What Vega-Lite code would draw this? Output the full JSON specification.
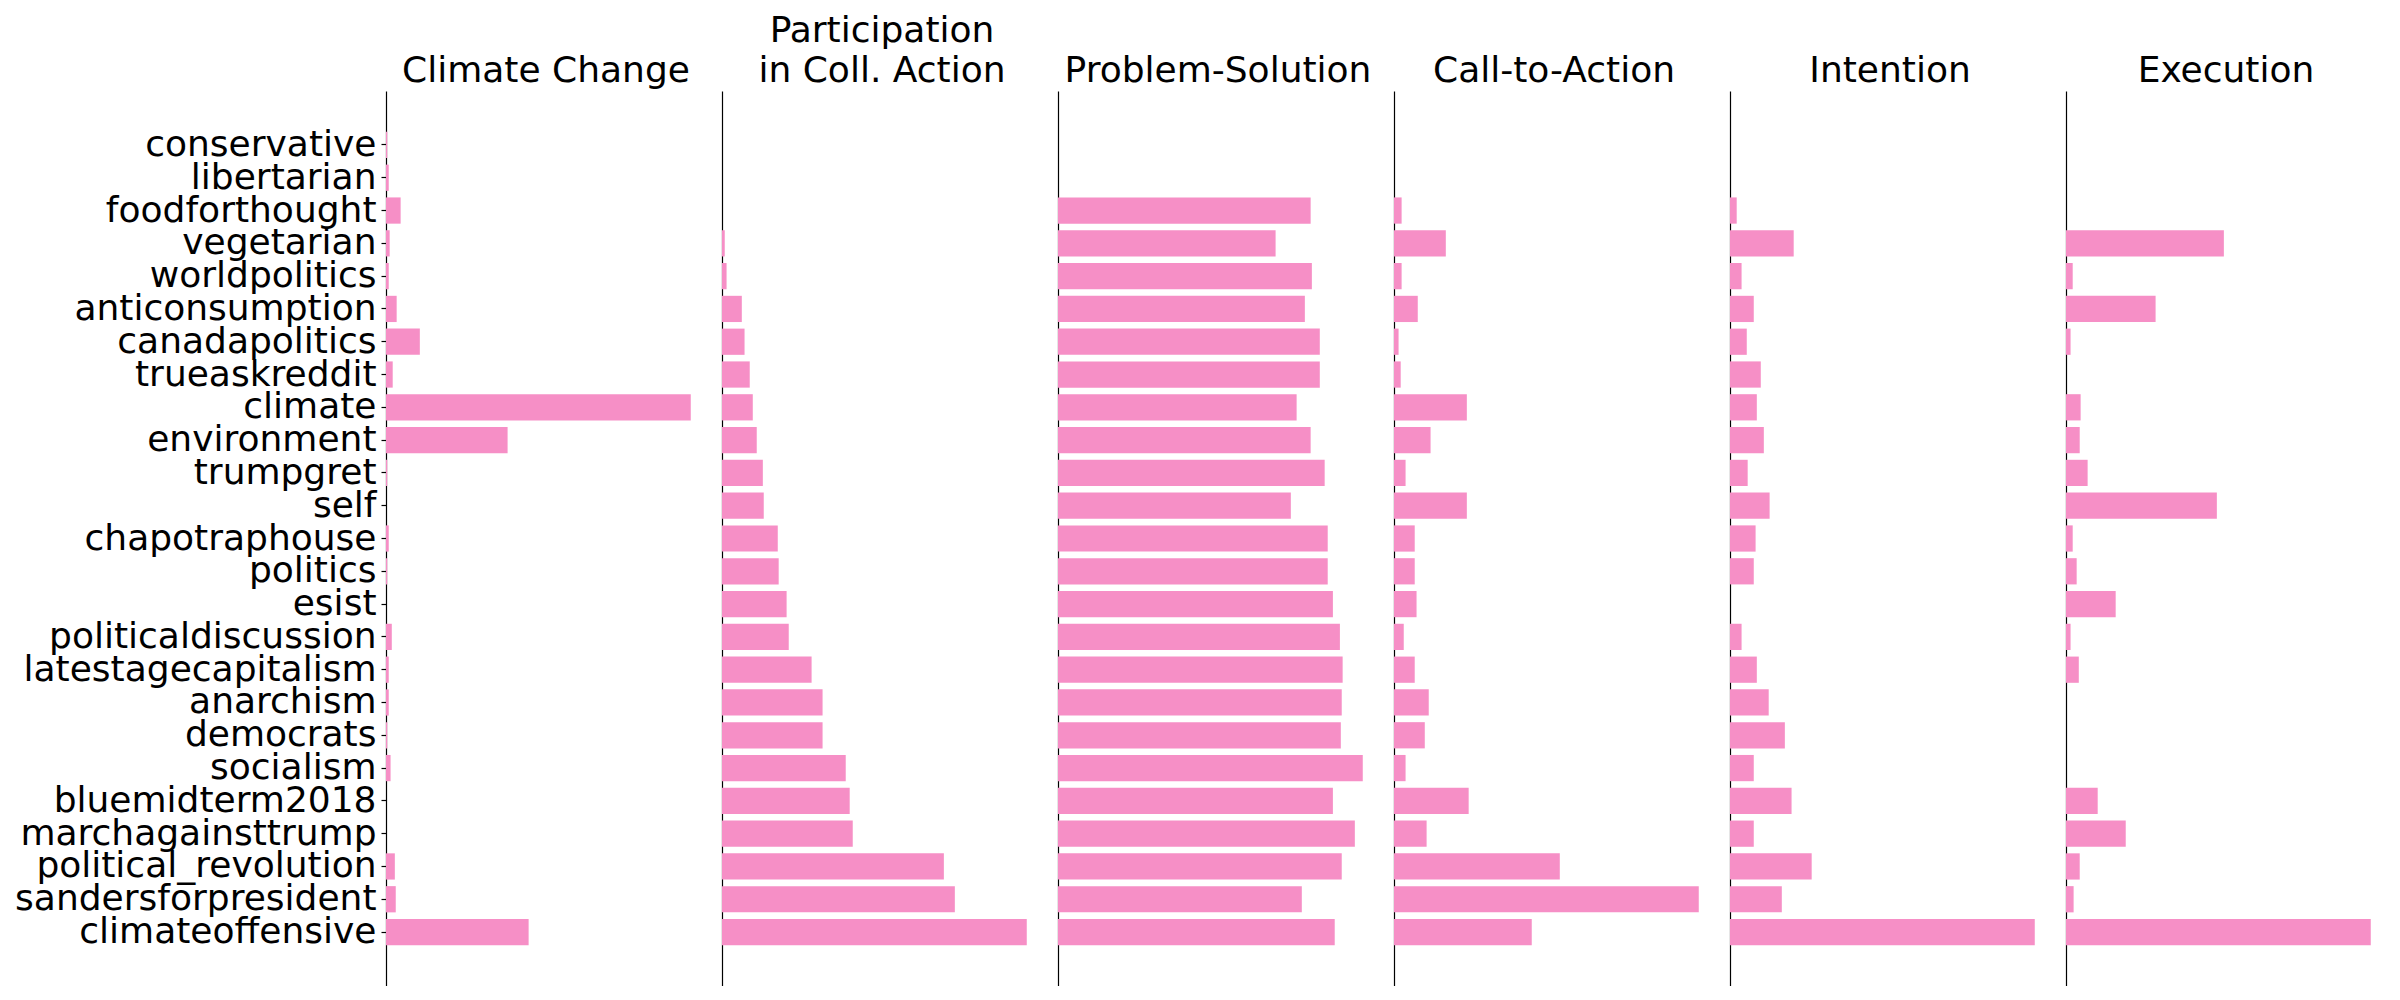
{
  "$schema": "https://vega.github.io/schema/vega-lite/v6.json",
  "padding": {"left": 14, "top": 13, "right": 0, "bottom": 0},
  "background": "white",
  "config": {
    "font": "DejaVu Sans",
    "view": {"stroke": null},
    "axis": {"domainColor": "black", "domainWidth": 1.2, "tickColor": "black", "labelColor": "black", "grid": false},
    "title": {"fontSize": 36, "fontWeight": "normal", "font": "DejaVu Sans", "color": "black", "anchor": "middle", "baseline": "bottom", "offset": 1, "lineHeight": 40}
  },
  "bounds": "flush",
  "spacing": 16,
  "datasets": {
    "bars": [
      {"subreddit": "conservative", "panel": "Climate Change", "share": 0.004},
      {"subreddit": "libertarian", "panel": "Climate Change", "share": 0.009},
      {"subreddit": "foodforthought", "panel": "Climate Change", "share": 0.048},
      {"subreddit": "vegetarian", "panel": "Climate Change", "share": 0.012},
      {"subreddit": "worldpolitics", "panel": "Climate Change", "share": 0.009},
      {"subreddit": "anticonsumption", "panel": "Climate Change", "share": 0.035},
      {"subreddit": "canadapolitics", "panel": "Climate Change", "share": 0.111},
      {"subreddit": "trueaskreddit", "panel": "Climate Change", "share": 0.022},
      {"subreddit": "climate", "panel": "Climate Change", "share": 1.0},
      {"subreddit": "environment", "panel": "Climate Change", "share": 0.399},
      {"subreddit": "trumpgret", "panel": "Climate Change", "share": 0.004},
      {"subreddit": "self", "panel": "Climate Change", "share": 0},
      {"subreddit": "chapotraphouse", "panel": "Climate Change", "share": 0.009},
      {"subreddit": "politics", "panel": "Climate Change", "share": 0.004},
      {"subreddit": "esist", "panel": "Climate Change", "share": 0},
      {"subreddit": "politicaldiscussion", "panel": "Climate Change", "share": 0.019},
      {"subreddit": "latestagecapitalism", "panel": "Climate Change", "share": 0.009},
      {"subreddit": "anarchism", "panel": "Climate Change", "share": 0.009},
      {"subreddit": "democrats", "panel": "Climate Change", "share": 0.004},
      {"subreddit": "socialism", "panel": "Climate Change", "share": 0.015},
      {"subreddit": "bluemidterm2018", "panel": "Climate Change", "share": 0},
      {"subreddit": "marchagainsttrump", "panel": "Climate Change", "share": 0},
      {"subreddit": "political_revolution", "panel": "Climate Change", "share": 0.029},
      {"subreddit": "sandersforpresident", "panel": "Climate Change", "share": 0.032},
      {"subreddit": "climateoffensive", "panel": "Climate Change", "share": 0.468},

      {"subreddit": "conservative", "panel": "Participation", "share": 0},
      {"subreddit": "libertarian", "panel": "Participation", "share": 0},
      {"subreddit": "foodforthought", "panel": "Participation", "share": 0},
      {"subreddit": "vegetarian", "panel": "Participation", "share": 0.009},
      {"subreddit": "worldpolitics", "panel": "Participation", "share": 0.015},
      {"subreddit": "anticonsumption", "panel": "Participation", "share": 0.065},
      {"subreddit": "canadapolitics", "panel": "Participation", "share": 0.074},
      {"subreddit": "trueaskreddit", "panel": "Participation", "share": 0.091},
      {"subreddit": "climate", "panel": "Participation", "share": 0.101},
      {"subreddit": "environment", "panel": "Participation", "share": 0.114},
      {"subreddit": "trumpgret", "panel": "Participation", "share": 0.134},
      {"subreddit": "self", "panel": "Participation", "share": 0.137},
      {"subreddit": "chapotraphouse", "panel": "Participation", "share": 0.183},
      {"subreddit": "politics", "panel": "Participation", "share": 0.186},
      {"subreddit": "esist", "panel": "Participation", "share": 0.212},
      {"subreddit": "politicaldiscussion", "panel": "Participation", "share": 0.219},
      {"subreddit": "latestagecapitalism", "panel": "Participation", "share": 0.294},
      {"subreddit": "anarchism", "panel": "Participation", "share": 0.330},
      {"subreddit": "democrats", "panel": "Participation", "share": 0.330},
      {"subreddit": "socialism", "panel": "Participation", "share": 0.406},
      {"subreddit": "bluemidterm2018", "panel": "Participation", "share": 0.419},
      {"subreddit": "marchagainsttrump", "panel": "Participation", "share": 0.429},
      {"subreddit": "political_revolution", "panel": "Participation", "share": 0.728},
      {"subreddit": "sandersforpresident", "panel": "Participation", "share": 0.764},
      {"subreddit": "climateoffensive", "panel": "Participation", "share": 1.0},

      {"subreddit": "conservative", "panel": "Problem-Solution", "share": 0},
      {"subreddit": "libertarian", "panel": "Problem-Solution", "share": 0},
      {"subreddit": "foodforthought", "panel": "Problem-Solution", "share": 0.829},
      {"subreddit": "vegetarian", "panel": "Problem-Solution", "share": 0.714},
      {"subreddit": "worldpolitics", "panel": "Problem-Solution", "share": 0.833},
      {"subreddit": "anticonsumption", "panel": "Problem-Solution", "share": 0.810},
      {"subreddit": "canadapolitics", "panel": "Problem-Solution", "share": 0.859},
      {"subreddit": "trueaskreddit", "panel": "Problem-Solution", "share": 0.859},
      {"subreddit": "climate", "panel": "Problem-Solution", "share": 0.783},
      {"subreddit": "environment", "panel": "Problem-Solution", "share": 0.829},
      {"subreddit": "trumpgret", "panel": "Problem-Solution", "share": 0.875},
      {"subreddit": "self", "panel": "Problem-Solution", "share": 0.764},
      {"subreddit": "chapotraphouse", "panel": "Problem-Solution", "share": 0.885},
      {"subreddit": "politics", "panel": "Problem-Solution", "share": 0.885},
      {"subreddit": "esist", "panel": "Problem-Solution", "share": 0.902},
      {"subreddit": "politicaldiscussion", "panel": "Problem-Solution", "share": 0.925},
      {"subreddit": "latestagecapitalism", "panel": "Problem-Solution", "share": 0.934},
      {"subreddit": "anarchism", "panel": "Problem-Solution", "share": 0.931},
      {"subreddit": "democrats", "panel": "Problem-Solution", "share": 0.928},
      {"subreddit": "socialism", "panel": "Problem-Solution", "share": 1.0},
      {"subreddit": "bluemidterm2018", "panel": "Problem-Solution", "share": 0.902},
      {"subreddit": "marchagainsttrump", "panel": "Problem-Solution", "share": 0.974},
      {"subreddit": "political_revolution", "panel": "Problem-Solution", "share": 0.931},
      {"subreddit": "sandersforpresident", "panel": "Problem-Solution", "share": 0.800},
      {"subreddit": "climateoffensive", "panel": "Problem-Solution", "share": 0.908},

      {"subreddit": "conservative", "panel": "Call-to-Action", "share": 0},
      {"subreddit": "libertarian", "panel": "Call-to-Action", "share": 0},
      {"subreddit": "foodforthought", "panel": "Call-to-Action", "share": 0.025},
      {"subreddit": "vegetarian", "panel": "Call-to-Action", "share": 0.170},
      {"subreddit": "worldpolitics", "panel": "Call-to-Action", "share": 0.025},
      {"subreddit": "anticonsumption", "panel": "Call-to-Action", "share": 0.078},
      {"subreddit": "canadapolitics", "panel": "Call-to-Action", "share": 0.015},
      {"subreddit": "trueaskreddit", "panel": "Call-to-Action", "share": 0.022},
      {"subreddit": "climate", "panel": "Call-to-Action", "share": 0.239},
      {"subreddit": "environment", "panel": "Call-to-Action", "share": 0.120},
      {"subreddit": "trumpgret", "panel": "Call-to-Action", "share": 0.038},
      {"subreddit": "self", "panel": "Call-to-Action", "share": 0.239},
      {"subreddit": "chapotraphouse", "panel": "Call-to-Action", "share": 0.068},
      {"subreddit": "politics", "panel": "Call-to-Action", "share": 0.068},
      {"subreddit": "esist", "panel": "Call-to-Action", "share": 0.074},
      {"subreddit": "politicaldiscussion", "panel": "Call-to-Action", "share": 0.032},
      {"subreddit": "latestagecapitalism", "panel": "Call-to-Action", "share": 0.068},
      {"subreddit": "anarchism", "panel": "Call-to-Action", "share": 0.114},
      {"subreddit": "democrats", "panel": "Call-to-Action", "share": 0.101},
      {"subreddit": "socialism", "panel": "Call-to-Action", "share": 0.038},
      {"subreddit": "bluemidterm2018", "panel": "Call-to-Action", "share": 0.245},
      {"subreddit": "marchagainsttrump", "panel": "Call-to-Action", "share": 0.107},
      {"subreddit": "political_revolution", "panel": "Call-to-Action", "share": 0.544},
      {"subreddit": "sandersforpresident", "panel": "Call-to-Action", "share": 1.0},
      {"subreddit": "climateoffensive", "panel": "Call-to-Action", "share": 0.452},

      {"subreddit": "conservative", "panel": "Intention", "share": 0},
      {"subreddit": "libertarian", "panel": "Intention", "share": 0},
      {"subreddit": "foodforthought", "panel": "Intention", "share": 0.022},
      {"subreddit": "vegetarian", "panel": "Intention", "share": 0.209},
      {"subreddit": "worldpolitics", "panel": "Intention", "share": 0.038},
      {"subreddit": "anticonsumption", "panel": "Intention", "share": 0.078},
      {"subreddit": "canadapolitics", "panel": "Intention", "share": 0.055},
      {"subreddit": "trueaskreddit", "panel": "Intention", "share": 0.101},
      {"subreddit": "climate", "panel": "Intention", "share": 0.088},
      {"subreddit": "environment", "panel": "Intention", "share": 0.111},
      {"subreddit": "trumpgret", "panel": "Intention", "share": 0.058},
      {"subreddit": "self", "panel": "Intention", "share": 0.130},
      {"subreddit": "chapotraphouse", "panel": "Intention", "share": 0.084},
      {"subreddit": "politics", "panel": "Intention", "share": 0.078},
      {"subreddit": "esist", "panel": "Intention", "share": 0},
      {"subreddit": "politicaldiscussion", "panel": "Intention", "share": 0.038},
      {"subreddit": "latestagecapitalism", "panel": "Intention", "share": 0.088},
      {"subreddit": "anarchism", "panel": "Intention", "share": 0.127},
      {"subreddit": "democrats", "panel": "Intention", "share": 0.180},
      {"subreddit": "socialism", "panel": "Intention", "share": 0.078},
      {"subreddit": "bluemidterm2018", "panel": "Intention", "share": 0.202},
      {"subreddit": "marchagainsttrump", "panel": "Intention", "share": 0.078},
      {"subreddit": "political_revolution", "panel": "Intention", "share": 0.268},
      {"subreddit": "sandersforpresident", "panel": "Intention", "share": 0.170},
      {"subreddit": "climateoffensive", "panel": "Intention", "share": 1.0},

      {"subreddit": "conservative", "panel": "Execution", "share": 0},
      {"subreddit": "libertarian", "panel": "Execution", "share": 0},
      {"subreddit": "foodforthought", "panel": "Execution", "share": 0},
      {"subreddit": "vegetarian", "panel": "Execution", "share": 0.518},
      {"subreddit": "worldpolitics", "panel": "Execution", "share": 0.022},
      {"subreddit": "anticonsumption", "panel": "Execution", "share": 0.294},
      {"subreddit": "canadapolitics", "panel": "Execution", "share": 0.015},
      {"subreddit": "trueaskreddit", "panel": "Execution", "share": 0},
      {"subreddit": "climate", "panel": "Execution", "share": 0.048},
      {"subreddit": "environment", "panel": "Execution", "share": 0.045},
      {"subreddit": "trumpgret", "panel": "Execution", "share": 0.071},
      {"subreddit": "self", "panel": "Execution", "share": 0.495},
      {"subreddit": "chapotraphouse", "panel": "Execution", "share": 0.022},
      {"subreddit": "politics", "panel": "Execution", "share": 0.035},
      {"subreddit": "esist", "panel": "Execution", "share": 0.163},
      {"subreddit": "politicaldiscussion", "panel": "Execution", "share": 0.015},
      {"subreddit": "latestagecapitalism", "panel": "Execution", "share": 0.042},
      {"subreddit": "anarchism", "panel": "Execution", "share": 0},
      {"subreddit": "democrats", "panel": "Execution", "share": 0},
      {"subreddit": "socialism", "panel": "Execution", "share": 0},
      {"subreddit": "bluemidterm2018", "panel": "Execution", "share": 0.104},
      {"subreddit": "marchagainsttrump", "panel": "Execution", "share": 0.196},
      {"subreddit": "political_revolution", "panel": "Execution", "share": 0.045},
      {"subreddit": "sandersforpresident", "panel": "Execution", "share": 0.025},
      {"subreddit": "climateoffensive", "panel": "Execution", "share": 1.0}
    ]
  },
  "data": {"name": "bars"},
  "hconcat": [
    {
      "title": {"text": "Climate Change"},
      "width": 320, "height": 895,
      "transform": [{"filter": "datum.panel === 'Climate Change'"}],
      "mark": {"type": "bar", "color": "#f68fc6"},
      "encoding": {
        "y": {"field": "subreddit", "type": "nominal",
              "scale": {"domain": ["", "conservative", "libertarian", "foodforthought", "vegetarian", "worldpolitics", "anticonsumption", "canadapolitics", "trueaskreddit", "climate", "environment", "trumpgret", "self", "chapotraphouse", "politics", "esist", "politicaldiscussion", "latestagecapitalism", "anarchism", "democrats", "socialism", "bluemidterm2018", "marchagainsttrump", "political_revolution", "sandersforpresident", "climateoffensive", " "], "paddingInner": 0.2, "paddingOuter": 0.245},
              "axis": {"title": null, "labelFontSize": 36, "labelFont": "DejaVu Sans", "labelLimit": 1000, "tickSize": 5, "tickWidth": 1.2, "labelPadding": 5,
                       "tickOpacity": {"condition": {"test": "trim(datum.value) === ''", "value": 0}, "value": 1}}},
        "x": {"field": "share", "type": "quantitative", "scale": {"domain": [0, 1.05], "nice": false, "zero": true}, "axis": null}
      }
    },
    {
      "title": {"text": ["Participation", "in Coll. Action"]},
      "width": 320, "height": 895,
      "transform": [{"filter": "datum.panel === 'Participation'"}],
      "mark": {"type": "bar", "color": "#f68fc6"},
      "encoding": {
        "y": {"field": "subreddit", "type": "nominal",
              "scale": {"domain": ["", "conservative", "libertarian", "foodforthought", "vegetarian", "worldpolitics", "anticonsumption", "canadapolitics", "trueaskreddit", "climate", "environment", "trumpgret", "self", "chapotraphouse", "politics", "esist", "politicaldiscussion", "latestagecapitalism", "anarchism", "democrats", "socialism", "bluemidterm2018", "marchagainsttrump", "political_revolution", "sandersforpresident", "climateoffensive", " "], "paddingInner": 0.2, "paddingOuter": 0.245},
              "axis": {"title": null, "labels": false, "ticks": false}},
        "x": {"field": "share", "type": "quantitative", "scale": {"domain": [0, 1.05], "nice": false, "zero": true}, "axis": null}
      }
    },
    {
      "title": {"text": "Problem-Solution"},
      "width": 320, "height": 895,
      "transform": [{"filter": "datum.panel === 'Problem-Solution'"}],
      "mark": {"type": "bar", "color": "#f68fc6"},
      "encoding": {
        "y": {"field": "subreddit", "type": "nominal",
              "scale": {"domain": ["", "conservative", "libertarian", "foodforthought", "vegetarian", "worldpolitics", "anticonsumption", "canadapolitics", "trueaskreddit", "climate", "environment", "trumpgret", "self", "chapotraphouse", "politics", "esist", "politicaldiscussion", "latestagecapitalism", "anarchism", "democrats", "socialism", "bluemidterm2018", "marchagainsttrump", "political_revolution", "sandersforpresident", "climateoffensive", " "], "paddingInner": 0.2, "paddingOuter": 0.245},
              "axis": {"title": null, "labels": false, "ticks": false}},
        "x": {"field": "share", "type": "quantitative", "scale": {"domain": [0, 1.05], "nice": false, "zero": true}, "axis": null}
      }
    },
    {
      "title": {"text": "Call-to-Action"},
      "width": 320, "height": 895,
      "transform": [{"filter": "datum.panel === 'Call-to-Action'"}],
      "mark": {"type": "bar", "color": "#f68fc6"},
      "encoding": {
        "y": {"field": "subreddit", "type": "nominal",
              "scale": {"domain": ["", "conservative", "libertarian", "foodforthought", "vegetarian", "worldpolitics", "anticonsumption", "canadapolitics", "trueaskreddit", "climate", "environment", "trumpgret", "self", "chapotraphouse", "politics", "esist", "politicaldiscussion", "latestagecapitalism", "anarchism", "democrats", "socialism", "bluemidterm2018", "marchagainsttrump", "political_revolution", "sandersforpresident", "climateoffensive", " "], "paddingInner": 0.2, "paddingOuter": 0.245},
              "axis": {"title": null, "labels": false, "ticks": false}},
        "x": {"field": "share", "type": "quantitative", "scale": {"domain": [0, 1.05], "nice": false, "zero": true}, "axis": null}
      }
    },
    {
      "title": {"text": "Intention"},
      "width": 320, "height": 895,
      "transform": [{"filter": "datum.panel === 'Intention'"}],
      "mark": {"type": "bar", "color": "#f68fc6"},
      "encoding": {
        "y": {"field": "subreddit", "type": "nominal",
              "scale": {"domain": ["", "conservative", "libertarian", "foodforthought", "vegetarian", "worldpolitics", "anticonsumption", "canadapolitics", "trueaskreddit", "climate", "environment", "trumpgret", "self", "chapotraphouse", "politics", "esist", "politicaldiscussion", "latestagecapitalism", "anarchism", "democrats", "socialism", "bluemidterm2018", "marchagainsttrump", "political_revolution", "sandersforpresident", "climateoffensive", " "], "paddingInner": 0.2, "paddingOuter": 0.245},
              "axis": {"title": null, "labels": false, "ticks": false}},
        "x": {"field": "share", "type": "quantitative", "scale": {"domain": [0, 1.05], "nice": false, "zero": true}, "axis": null}
      }
    },
    {
      "title": {"text": "Execution"},
      "width": 320, "height": 895,
      "transform": [{"filter": "datum.panel === 'Execution'"}],
      "mark": {"type": "bar", "color": "#f68fc6"},
      "encoding": {
        "y": {"field": "subreddit", "type": "nominal",
              "scale": {"domain": ["", "conservative", "libertarian", "foodforthought", "vegetarian", "worldpolitics", "anticonsumption", "canadapolitics", "trueaskreddit", "climate", "environment", "trumpgret", "self", "chapotraphouse", "politics", "esist", "politicaldiscussion", "latestagecapitalism", "anarchism", "democrats", "socialism", "bluemidterm2018", "marchagainsttrump", "political_revolution", "sandersforpresident", "climateoffensive", " "], "paddingInner": 0.2, "paddingOuter": 0.245},
              "axis": {"title": null, "labels": false, "ticks": false}},
        "x": {"field": "share", "type": "quantitative", "scale": {"domain": [0, 1.05], "nice": false, "zero": true}, "axis": null}
      }
    }
  ]
}
